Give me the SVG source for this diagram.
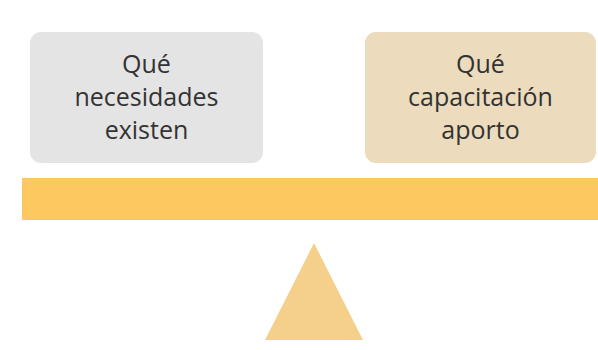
<svg xmlns="http://www.w3.org/2000/svg" width="598" height="350" viewBox="0 0 598 350">
<style>
.t{font-family:"Open Sans","Noto Sans",sans-serif;font-size:25px;fill:#333;text-anchor:middle}
</style>
<rect width="598" height="350" fill="#fff"/>
<g id="need">
<rect x="30" y="32" width="233" height="131" rx="11" fill="#e4e4e4"/>
<text class="t" x="146.5" y="73">Qué</text>
<text class="t" x="146.5" y="106">necesidades</text>
<text class="t" x="146.5" y="139">existen</text>
</g>
<g id="offer">
<rect x="365" y="32" width="231" height="131" rx="11" fill="#ecdcbd"/>
<text class="t" x="480.5" y="73">Qué</text>
<text class="t" x="480.5" y="106">capacitación</text>
<text class="t" x="480.5" y="139">aporto</text>
</g>
<g id="beam">
<rect x="22" y="178" width="576" height="42" fill="#fec861"/>
</g>
<g id="fulcrum">
<polygon points="314,243 363,340 265,340" fill="#f5d08b"/>
</g>
<g id="connectors"></g>
</svg>
